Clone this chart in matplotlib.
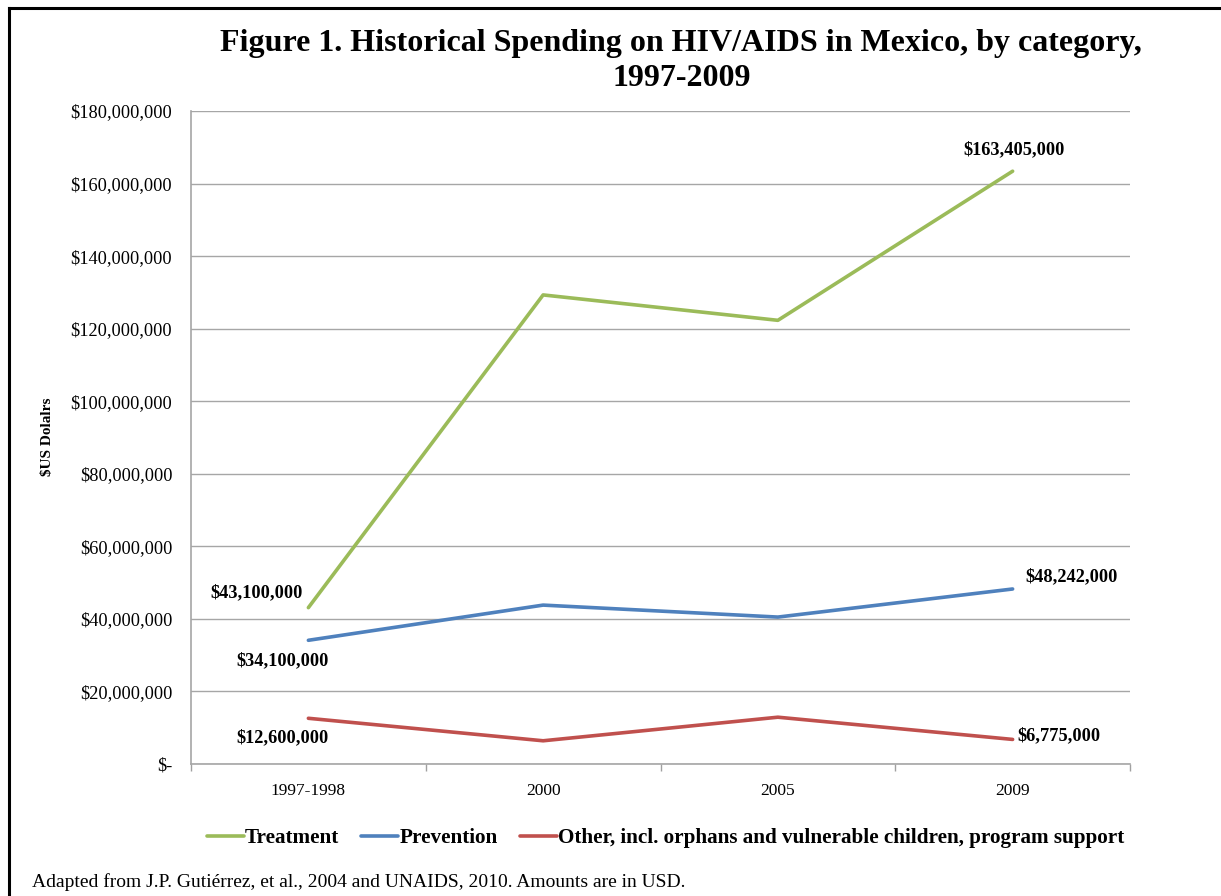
import matplotlib
matplotlib.use("Agg")
import matplotlib.pyplot as plt
from matplotlib.lines import Line2D
from matplotlib.ticker import FuncFormatter, FixedLocator

plt.rcParams['font.family'] = ['Liberation Serif', 'DejaVu Serif']

# data
categories = ['1997-1998', '2000', '2005', '2009']
treatment = [43100000, 129300000, 122300000, 163405000]
prevention = [34100000, 43800000, 40500000, 48242000]
other = [12600000, 6400000, 12900000, 6775000]
series_names = ['Treatment', 'Prevention',
                'Other, incl. orphans and vulnerable children, program support']
colors = ['#9BBB59', '#4F81BD', '#C0504D']

fig = plt.figure(figsize=(12.21, 8.96), dpi=100)
ax = fig.add_axes([191/1221, 1-764/896, (1130-191)/1221, (764-111)/896])

x = range(len(categories))
for vals, name, c in zip([treatment, prevention, other], series_names, colors):
    ax.plot(x, vals, color=c, lw=2.6, label=name, solid_capstyle='round', zorder=3)

ax.set_xlim(-0.5, 3.5)
ax.set_ylim(0, 180000000)
ax.set_yticks(range(0, 180000001, 20000000))
ax.yaxis.set_major_formatter(FuncFormatter(lambda v, p: '$-' if v == 0 else '${:,.0f}'.format(v)))
ax.set_xticks(list(x))
ax.set_xticklabels(categories, fontsize=12.5)
ax.xaxis.set_minor_locator(FixedLocator([-0.5, 0.5, 1.5, 2.5, 3.5]))
ax.tick_params(axis='x', which='major', length=0, pad=14)
ax.tick_params(axis='x', which='minor', length=5, color='#A0A0A0', width=1)
ax.tick_params(axis='y', length=0, labelsize=13.2, pad=13.5)
ax.grid(axis='y', color='#A6A6A6', lw=1)
ax.set_axisbelow(True)
for s in ['top', 'right']:
    ax.spines[s].set_visible(False)
for s in ['left', 'bottom']:
    ax.spines[s].set_color('#A6A6A6')
    ax.spines[s].set_linewidth(1.2)

fig.text(47/1221, 1-437/896, '$US Dolalrs', rotation=90, fontsize=11,
         fontweight='bold', ha='center', va='center')

# data labels: (series, index, dx px, dy px, ha)
lab = [(treatment, 0, -52, 15, 'center'),
       (prevention, 0, -26, -20, 'center'),
       (other, 0, -26, -19, 'center'),
       (treatment, 3, 1, 21, 'center'),
       (prevention, 3, 13, 12, 'left'),
       (other, 3, 5, 4, 'left')]
for vals, i, dx, dy, ha in lab:
    ax.annotate('${:,.0f}'.format(vals[i]), (i, vals[i]), xytext=(dx, dy),
                textcoords='offset pixels', ha=ha, va='center',
                fontsize=13.2, fontweight='bold')

fig.text(0.558, 1-61/896, 'Figure 1. Historical Spending on HIV/AIDS in Mexico, by category,\n1997-2009',
         ha='center', va='center', fontsize=23, fontweight='bold', linespacing=1.3)

leg = fig.legend(loc='center', bbox_to_anchor=(0.545, 1-838/896), ncol=3, frameon=False,
                 prop={'size': 15.2, 'weight': 'bold'}, handlelength=1.75,
                 handletextpad=0.05, columnspacing=1.05)

fig.text(32/1221, 1-882/896,
         'Adapted from J.P. Guti\u00e9rrez, et al., 2004 and UNAIDS, 2010. Amounts are in USD.',
         ha='left', va='center', fontsize=14)

# frame lines on left and top
fig.add_artist(Line2D([8.5/1221, 8.5/1221], [0, 1-8.5/896], transform=fig.transFigure,
                      color='black', lw=2.2))
fig.add_artist(Line2D([8.5/1221, 1], [1-8.5/896, 1-8.5/896], transform=fig.transFigure,
                      color='black', lw=2.2))

fig.savefig('out.png', dpi=100, facecolor='white')
